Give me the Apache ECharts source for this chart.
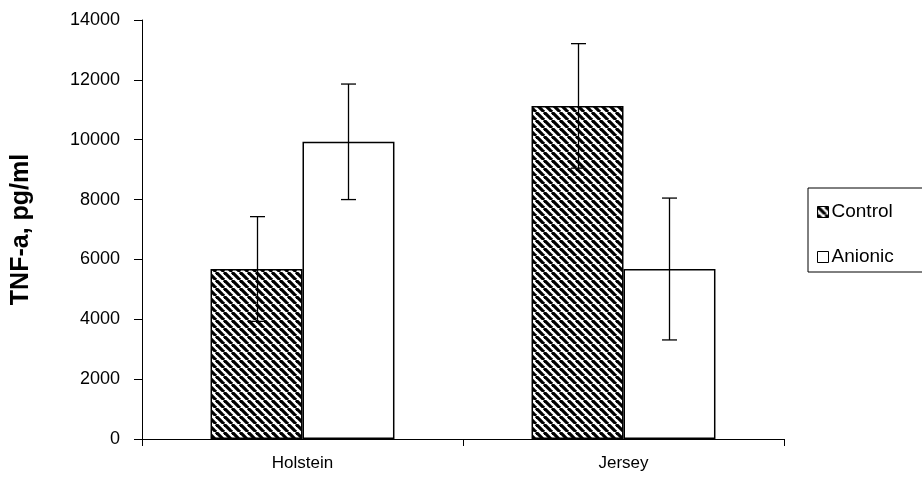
<!DOCTYPE html>
<html>
<head>
<meta charset="utf-8">
<script src="https://cdn.jsdelivr.net/npm/echarts@6/dist/echarts.min.js"></script>
<style>
html,body{margin:0;padding:0;background:#fff;}
#chart{width:922px;height:492px;}
</style>
</head>
<body>
<div id="chart"></div>
<script>
// ---- data ----
var categories = ['Holstein', 'Jersey'];
var seriesNames = ['Control', 'Anionic'];
var controlValues = [5680, 11130];
var controlErrors = [1750, 2080];
var anionicValues = [9930, 5680];
var anionicErrors = [1930, 2370];
var yTicks = [0, 2000, 4000, 6000, 8000, 10000, 12000, 14000];

// hatch pattern
var p = 8;
var cv = document.createElement('canvas');
cv.width = p; cv.height = p;
var cx = cv.getContext('2d');
cx.fillStyle = '#fff';
cx.fillRect(0, 0, p, p);
cx.strokeStyle = '#000';
cx.lineWidth = 3.2;
for (var k = -1; k <= 1; k++) {
  cx.beginPath();
  cx.moveTo(k * p, 0);
  cx.lineTo(k * p + p, p);
  cx.stroke();
}
var hatch = { image: cv, repeat: 'repeat' };

var catGapPct = 42.7;
var font = 'Liberation Sans, Arial, sans-serif';

function errorSeries(values, errors, sideIndex) {
  var data = values.map(function (v, i) { return [i, v - errors[i], v + errors[i]]; });
  return {
    type: 'custom',
    silent: true,
    z: 10,
    data: data,
    encode: { x: 0, y: [1, 2] },
    renderItem: function (params, api) {
      var ci = api.value(0);
      var lo = api.coord([ci, api.value(1)]);
      var hi = api.coord([ci, api.value(2)]);
      var band = api.size([1, 0])[0];
      var bw = band * (1 - catGapPct / 100) / 2;
      var x = lo[0] + (sideIndex === 0 ? -bw / 2 : bw / 2);
      x = Math.round(x) + 0.5;
      var cap = 7.5;
      var st = { stroke: '#000', lineWidth: 1.3, fill: null };
      return {
        type: 'group',
        children: [
          { type: 'line', shape: { x1: x, y1: hi[1], x2: x, y2: lo[1] }, style: st },
          { type: 'line', shape: { x1: x - cap, y1: hi[1], x2: x + cap, y2: hi[1] }, style: st },
          { type: 'line', shape: { x1: x - cap, y1: lo[1], x2: x + cap, y2: lo[1] }, style: st }
        ]
      };
    }
  };
}

var chart = echarts.init(document.getElementById('chart'), null, { renderer: 'canvas' });
chart.setOption({
  animation: false,
  backgroundColor: '#fff',
  grid: { left: 142, right: 138, top: 20, bottom: 53, containLabel: false },
  legend: {
    orient: 'vertical',
    left: 808,
    top: 188,
    padding: [14, 60, 5, 9],
    itemGap: 25,
    itemWidth: 11,
    itemHeight: 11,
    borderColor: '#000',
    borderWidth: 1,
    icon: 'rect',
    selectedMode: false,
    textStyle: { fontFamily: font, fontSize: 19, color: '#000', lineHeight: 20, padding: [0, 0, 0, -2] },
    data: [
      { name: seriesNames[0], itemStyle: { color: hatch, borderColor: '#000', borderWidth: 1 } },
      { name: seriesNames[1], itemStyle: { color: '#fff', borderColor: '#000', borderWidth: 1 } }
    ]
  },
  xAxis: {
    type: 'category',
    data: categories,
    axisLine: { lineStyle: { color: '#000', width: 1 } },
    axisTick: { show: true, alignWithLabel: false, length: 7, lineStyle: { color: '#000' } },
    axisLabel: { fontFamily: font, fontSize: 17, color: '#000', margin: 16 },
    splitLine: { show: false }
  },
  yAxis: {
    type: 'value',
    min: yTicks[0],
    max: yTicks[yTicks.length - 1],
    interval: yTicks[1] - yTicks[0],
    name: 'TNF-a, pg/ml',
    nameLocation: 'middle',
    nameGap: 108,
    nameTextStyle: { fontFamily: font, fontSize: 25, fontWeight: 'bold', color: '#000' },
    axisLine: { show: true, lineStyle: { color: '#000', width: 1 } },
    axisTick: { show: true, length: 8, lineStyle: { color: '#000' } },
    axisLabel: { fontFamily: font, fontSize: 18, color: '#000', margin: 22, formatter: function (v) { return String(v); } },
    splitLine: { show: false }
  },
  series: [
    {
      name: seriesNames[0],
      type: 'bar',
      data: controlValues,
      barGap: '0%',
      barCategoryGap: catGapPct + '%',
      itemStyle: { color: hatch, borderColor: '#000', borderWidth: 1.5 }
    },
    {
      name: seriesNames[1],
      type: 'bar',
      data: anionicValues,
      barGap: '0%',
      barCategoryGap: catGapPct + '%',
      itemStyle: { color: '#fff', borderColor: '#000', borderWidth: 1.5 }
    },
    errorSeries(controlValues, controlErrors, 0),
    errorSeries(anionicValues, anionicErrors, 1)
  ]
});
</script>
</body>
</html>
